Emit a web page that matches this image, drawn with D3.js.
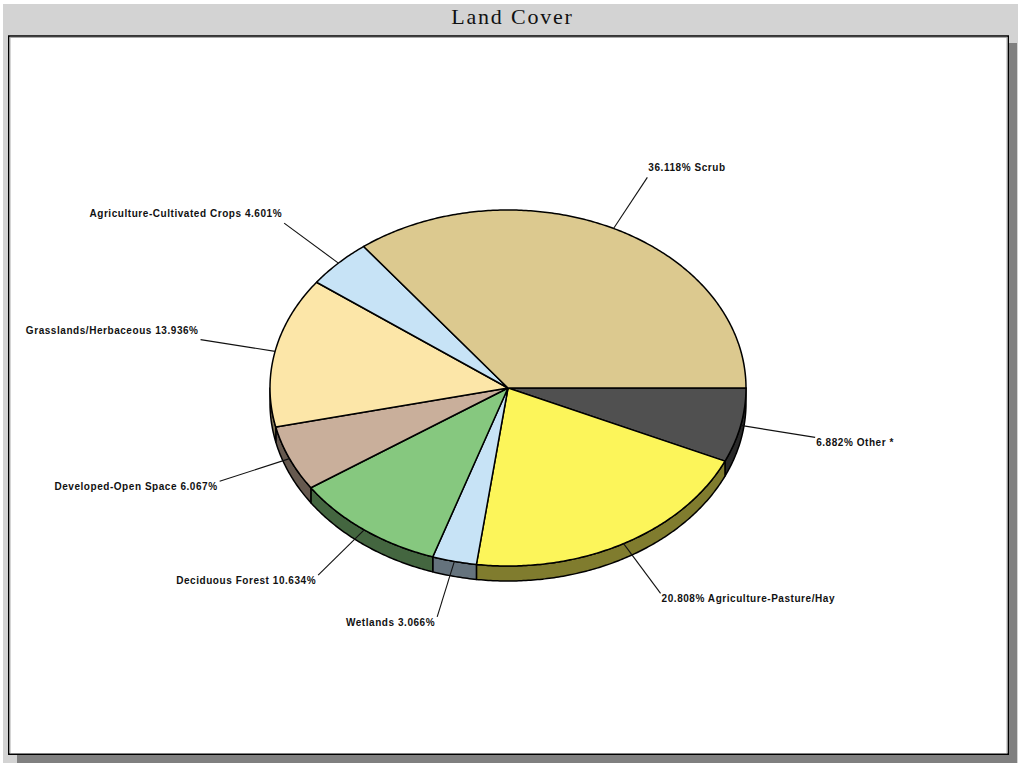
<!DOCTYPE html>
<html>
<head>
<meta charset="utf-8">
<script src="https://cdn.jsdelivr.net/npm/d3@7/dist/d3.min.js"></script>
<style>
html, body { margin: 0; padding: 0; background: #fff; }
svg { display: block; }
</style>
</head>
<body>
<svg id="chart" width="1018" height="763"></svg>
<script>
const chartTitle = "Land Cover";
const categories = ["Other *", "Agriculture-Pasture/Hay", "Wetlands", "Deciduous Forest", "Developed-Open Space", "Grasslands/Herbaceous", "Agriculture-Cultivated Crops", "Scrub"];
const shares = [6.882, 20.808, 3.066, 10.634, 6.067, 13.936, 4.601, 36.118];
const shareLabels = ["6.882%", "20.808%", "3.066%", "10.634%", "6.067%", "13.936%", "4.601%", "36.118%"];
const sliceColors = ["#505050", "#FCF55A", "#C7E3F6", "#86C87F", "#C9AF9B", "#FCE6A8", "#C7E3F6", "#DCC98F"];

const svg = d3.select("#chart");

// Window frame: title band, drop shadow, white plot panel.
svg.append("rect").attr("x", 3).attr("y", 4).attr("width", 1015).attr("height", 759).attr("fill", "#d3d3d3");
svg.append("rect").attr("x", 17).attr("y", 43).attr("width", 1000).attr("height", 720).attr("fill", "#808080");
svg.append("rect").attr("x", 8.75).attr("y", 36).attr("width", 999.5).attr("height", 718.25)
  .attr("fill", "#fff").attr("stroke", "#000").attr("stroke-width", 1.5);
svg.append("path").attr("d", "M10 753V37.5H1007V753").attr("fill", "none").attr("stroke", "#aaa").attr("stroke-width", 1);

svg.append("text").attr("x", 512.5).attr("y", 24)
  .attr("text-anchor", "middle")
  .attr("font-family", "'Liberation Serif', serif")
  .attr("font-size", 22).attr("letter-spacing", 1.8).attr("fill", "#111")
  .text(chartTitle);

// The disc is a tilted pie: unit-circle coordinates are mapped onto an ellipse.
const x = d3.scaleLinear().domain([-1, 1]).range([270, 746]);
const y = d3.scaleLinear().domain([-1, 1]).range([210, 566]);
const wallDepth = 15;
const leaderReach = 1.32;

const pieLayout = d3.pie().sort(null).startAngle(0).endAngle(2 * Math.PI);
const slices = pieLayout(shares).map((s, i) => ({
  ...s,
  name: categories[i],
  pct: shareLabels[i],
  color: sliceColors[i],
  mid: (s.startAngle + s.endAngle) / 2
}));

// Angles run clockwise from three o'clock.
const rimX = a => x(Math.cos(a));
const rimY = a => y(Math.sin(a));
const arcAngles = (a0, a1) => {
  const n = Math.max(2, Math.ceil((a1 - a0) / 0.01));
  return d3.range(n + 1).map(k => a0 + (a1 - a0) * k / n);
};
const pathLine = d3.line();

// Side wall: only the front half of the rim is visible.
const walls = svg.append("g");
slices.forEach(s => {
  const a0 = Math.max(s.startAngle, 0);
  const a1 = Math.min(s.endAngle, Math.PI);
  if (a1 <= a0) return;
  const top = arcAngles(a0, a1).map(a => [rimX(a), rimY(a)]);
  const bottom = arcAngles(a0, a1).reverse().map(a => [rimX(a), rimY(a) + wallDepth]);
  walls.append("path")
    .attr("d", pathLine(top.concat(bottom)) + "Z")
    .attr("fill", d3.color(s.color).darker(1.9))
    .attr("stroke", "#000").attr("stroke-width", 1.5).attr("stroke-linejoin", "round");
});

// Top faces.
const faces = svg.append("g");
slices.forEach(s => {
  const pts = arcAngles(s.startAngle, s.endAngle).map(a => [rimX(a), rimY(a)]);
  faces.append("path")
    .attr("d", pathLine([[x(0), y(0)]].concat(pts)) + "Z")
    .attr("fill", s.color)
    .attr("stroke", "#000").attr("stroke-width", 1.5).attr("stroke-linejoin", "round");
});

// Leader lines and labels.
const notes = svg.append("g");
slices.forEach(s => {
  const ex = x(Math.cos(s.mid) * leaderReach);
  const ey = y(Math.sin(s.mid) * leaderReach);
  notes.append("line")
    .attr("x1", rimX(s.mid)).attr("y1", rimY(s.mid))
    .attr("x2", ex).attr("y2", ey)
    .attr("stroke", "#111").attr("stroke-width", 1.1);
  const onRight = Math.cos(s.mid) > 0;
  const below = Math.sin(s.mid) > 0;
  notes.append("text")
    .attr("x", ex + (onRight ? 1 : -2))
    .attr("y", ey + (below ? 9 : -6))
    .attr("text-anchor", onRight ? "start" : "end")
    .attr("font-family", "'Liberation Sans', Arial, sans-serif")
    .attr("font-size", 10).attr("font-weight", 700)
    .attr("letter-spacing", 0.55).attr("fill", "#111")
    .text(onRight ? `${s.pct} ${s.name}` : `${s.name} ${s.pct}`);
});
</script>
</body>
</html>
